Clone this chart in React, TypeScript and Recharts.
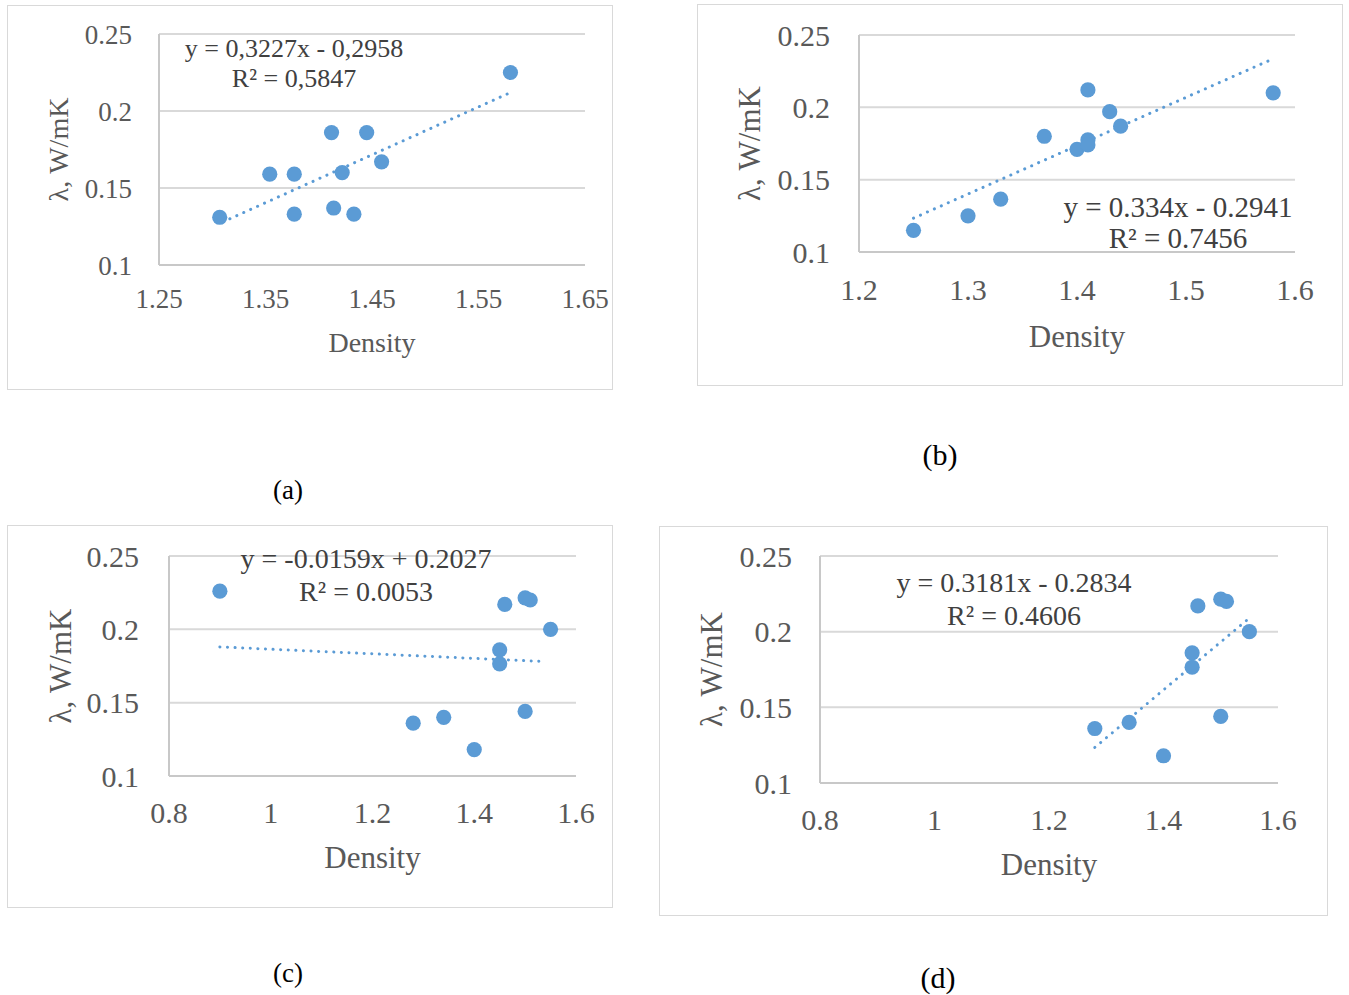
import React from 'react';
import { ScatterChart, Scatter, XAxis, YAxis, CartesianGrid, ReferenceLine, Label } from 'recharts';

const FONT = '"Liberation Serif", "Times New Roman", serif';
const BLUE = '#5b9bd5';
const TICK_COLOR = '#595959';
const EQ_COLOR = '#404040';

// ---- data ----
const densityA = [1.307, 1.354, 1.377, 1.377, 1.412, 1.414, 1.422, 1.433, 1.445, 1.459, 1.58];
const lambdaA = [0.131, 0.159, 0.159, 0.133, 0.186, 0.137, 0.16, 0.133, 0.186, 0.167, 0.225];
const trendXA = [1.31, 1.58];
const trendYA = [0.128, 0.212];

const densityB = [1.25, 1.3, 1.33, 1.37, 1.4, 1.41, 1.41, 1.41, 1.43, 1.44, 1.58];
const lambdaB = [0.115, 0.125, 0.1365, 0.18, 0.171, 0.212, 0.1775, 0.174, 0.197, 0.187, 0.21];
const trendXB = [1.25, 1.58];
const trendYB = [0.1234, 0.2336];

const densityC = [0.9, 1.28, 1.34, 1.4, 1.45, 1.45, 1.46, 1.5, 1.51, 1.5, 1.55];
const lambdaC = [0.226, 0.136, 0.14, 0.118, 0.186, 0.1765, 0.217, 0.2215, 0.22, 0.144, 0.2];
const trendXC = [0.9, 1.54];
const trendYC = [0.188, 0.178];

const densityD = [1.28, 1.34, 1.4, 1.45, 1.45, 1.46, 1.5, 1.51, 1.5, 1.55];
const lambdaD = [0.136, 0.14, 0.118, 0.186, 0.1765, 0.217, 0.2215, 0.22, 0.144, 0.2];
const trendXD = [1.28, 1.55];
const trendYD = [0.1235, 0.209];

const yTicks = [0.1, 0.15, 0.2, 0.25];
const xTicksA = [1.25, 1.35, 1.45, 1.55, 1.65];
const xTicksB = [1.2, 1.3, 1.4, 1.5, 1.6];
const xTicksCD = [0.8, 1, 1.2, 1.4, 1.6];

const eqA = ['y = 0,3227x - 0,2958', 'R² = 0,5847'];
const eqB = ['y = 0.334x - 0.2941', 'R² = 0.7456'];
const eqC = ['y = -0.0159x + 0.2027', 'R² = 0.0053'];
const eqD = ['y = 0.3181x - 0.2834', 'R² = 0.4606'];

const X_TITLE = 'Density';
const Y_TITLE = 'λ, W/mK';

type Box = { l: number; t: number; r: number; b: number };
type Cfg = {
  box: Box;
  plot: Box;
  xs: number[];
  ys: number[];
  tx: number[];
  ty: number[];
  xTicks: number[];
  tickFs: number;
  titleFs: number;
  xTickMargin: number;
  yTickMargin: number;
  xTitleBase: number;
  yTitleDist: number;
};

const panels: Cfg[] = [
  {
    box: { l: 7, t: 5, r: 613, b: 390 },
    plot: { l: 159, t: 34, r: 585, b: 265 },
    xs: densityA, ys: lambdaA, tx: trendXA, ty: trendYA, xTicks: xTicksA,
    tickFs: 27, titleFs: 28, xTickMargin: 24, yTickMargin: 27, xTitleBase: 87, yTitleDist: 101,
  },
  {
    box: { l: 697, t: 4, r: 1343, b: 386 },
    plot: { l: 859, t: 35, r: 1295, b: 252 },
    xs: densityB, ys: lambdaB, tx: trendXB, ty: trendYB, xTicks: xTicksB,
    tickFs: 30, titleFs: 31, xTickMargin: 27, yTickMargin: 29, xTitleBase: 95, yTitleDist: 110,
  },
  {
    box: { l: 7, t: 525, r: 613, b: 908 },
    plot: { l: 169, t: 556, r: 576, b: 776 },
    xs: densityC, ys: lambdaC, tx: trendXC, ty: trendYC, xTicks: xTicksCD,
    tickFs: 30, titleFs: 31, xTickMargin: 26, yTickMargin: 30, xTitleBase: 92, yTitleDist: 109,
  },
  {
    box: { l: 659, t: 526, r: 1328, b: 916 },
    plot: { l: 820, t: 556, r: 1278, b: 783 },
    xs: densityD, ys: lambdaD, tx: trendXD, ty: trendYD, xTicks: xTicksCD,
    tickFs: 30, titleFs: 31, xTickMargin: 26, yTickMargin: 28, xTitleBase: 92, yTitleDist: 109,
  },
];

const equations = [
  { lines: eqA, cx: 294, base: [57, 87], fs: 26 },
  { lines: eqB, cx: 1178, base: [217, 248], fs: 29 },
  { lines: eqC, cx: 366, base: [568, 601], fs: 28 },
  { lines: eqD, cx: 1014, base: [592, 625], fs: 28 },
];

const captions = [
  { text: '(a)', x: 288, y: 499, fs: 27 },
  { text: '(b)', x: 940, y: 465, fs: 30 },
  { text: '(c)', x: 288, y: 982, fs: 27 },
  { text: '(d)', x: 938, y: 988, fs: 30 },
];

const Dot = (p: any) => <circle cx={p.cx} cy={p.cy} r={7.6} fill={BLUE} />;

function Panel({ cfg }: { cfg: Cfg }) {
  const { box, plot } = cfg;
  const W = box.r - box.l;
  const H = box.b - box.t;
  const xH = 20;
  const yW = 20;
  const margin = {
    top: plot.t - box.t,
    right: box.r - plot.r,
    left: plot.l - box.l - yW,
    bottom: box.b - plot.b - xH,
  };
  const data = cfg.xs.map((x, i) => ({ x, y: cfg.ys[i] }));
  const xDomain = [cfg.xTicks[0], cfg.xTicks[cfg.xTicks.length - 1]];
  const tickStyle = { fill: TICK_COLOR, fontSize: cfg.tickFs, fontFamily: FONT };
  const xTitle = (props: any) => {
    const vb = props.viewBox || {};
    return (
      <text
        x={vb.x + vb.width / 2}
        y={vb.y + cfg.xTitleBase}
        textAnchor="middle"
        fill={TICK_COLOR}
        fontSize={cfg.titleFs}
        fontFamily={FONT}
      >
        {X_TITLE}
      </text>
    );
  };
  const yTitle = (props: any) => {
    const vb = props.viewBox || {};
    const cx = vb.x + vb.width - cfg.yTitleDist;
    const cy = vb.y + vb.height / 2;
    return (
      <text
        x={cx}
        y={cy}
        dy="0.35em"
        transform={`rotate(-90, ${cx}, ${cy})`}
        textAnchor="middle"
        fill={TICK_COLOR}
        fontSize={cfg.titleFs}
        fontFamily={FONT}
      >
        {Y_TITLE}
      </text>
    );
  };
  return (
    <>
      <div
        style={{
          position: 'absolute',
          left: box.l,
          top: box.t,
          width: W,
          height: H,
          border: '1.5px solid #d9d9d9',
          boxSizing: 'border-box',
        }}
      />
      <div style={{ position: 'absolute', left: box.l, top: box.t, width: W, height: H }}>
        <ScatterChart width={W} height={H} margin={margin}>
          <CartesianGrid vertical={false} stroke="#d9d9d9" strokeWidth={2} />
          <XAxis
            type="number"
            dataKey="x"
            domain={xDomain}
            ticks={cfg.xTicks}
            interval={0}
            allowDataOverflow
            height={xH}
            axisLine={{ stroke: '#c8c8c8', strokeWidth: 2 }}
            tickLine={false}
            tickSize={0}
            tickMargin={cfg.xTickMargin}
            tick={tickStyle}
            tickFormatter={(v: number) => String(v)}
          >
            <Label content={xTitle} />
          </XAxis>
          <YAxis
            type="number"
            dataKey="y"
            domain={[0.1, 0.25]}
            ticks={yTicks}
            interval={0}
            allowDataOverflow
            width={yW}
            axisLine={{ stroke: '#c8c8c8', strokeWidth: 2 }}
            tickLine={false}
            tickSize={0}
            tickMargin={cfg.yTickMargin}
            tick={tickStyle}
            tickFormatter={(v: number) => String(v)}
          >
            <Label content={yTitle} />
          </YAxis>
          <Scatter data={data} fill={BLUE} shape={Dot} isAnimationActive={false} />
          <ReferenceLine
            segment={[
              { x: cfg.tx[0], y: cfg.ty[0] },
              { x: cfg.tx[1], y: cfg.ty[1] },
            ]}
            stroke={BLUE}
            strokeWidth={3}
            strokeDasharray="0.1 7.5"
            strokeLinecap="round"
            ifOverflow="visible"
          />
        </ScatterChart>
      </div>
    </>
  );
}

export default function App() {
  return (
    <div style={{ position: 'absolute', left: 0, top: 0, width: 1349, height: 995, background: '#ffffff' }}>
      {panels.map((cfg, i) => (
        <Panel key={i} cfg={cfg} />
      ))}
      <svg
        width={1349}
        height={995}
        style={{ position: 'absolute', left: 0, top: 0, pointerEvents: 'none' }}
      >
        {equations.map((eq, i) => (
          <g key={i}>
            {eq.lines.map((line, j) => (
              <text
                key={j}
                x={eq.cx}
                y={eq.base[j]}
                textAnchor="middle"
                fill={EQ_COLOR}
                fontSize={eq.fs}
                fontFamily={FONT}
              >
                {line}
              </text>
            ))}
          </g>
        ))}
        {captions.map((c, i) => (
          <text key={i} x={c.x} y={c.y} textAnchor="middle" fill="#000000" fontSize={c.fs} fontFamily={FONT}>
            {c.text}
          </text>
        ))}
      </svg>
    </div>
  );
}
